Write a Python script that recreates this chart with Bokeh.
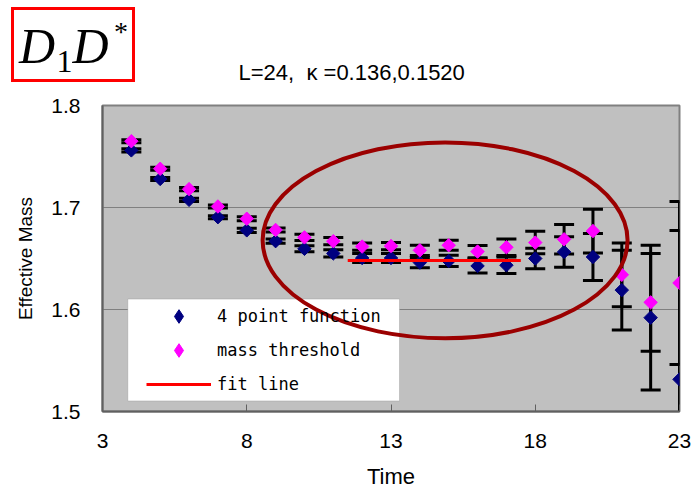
import numpy as np
from bokeh.plotting import figure
from bokeh.layouts import column
from bokeh.models import (Range1d, FixedTicker, Whisker, TeeHead, ColumnDataSource,
                          Legend, LegendItem, BoxAnnotation, Div)
from bokeh.embed import file_html
from bokeh.resources import INLINE

# ---------------- data ----------------
time = [4, 5, 6, 7, 8, 9, 10, 11, 12, 13, 14, 15, 16, 17, 18, 19, 20, 21, 22, 23]
four_point = [1.756, 1.728, 1.7075, 1.6905, 1.6776, 1.667, 1.6595, 1.655, 1.6505, 1.6505,
              1.646, 1.6476, 1.6427, 1.6434, 1.650, 1.6564, 1.6515, 1.619, 1.592, 1.5315]
four_point_err = [0.0015, 0.0015, 0.0015, 0.0015, 0.002, 0.002, 0.003, 0.0035, 0.0045, 0.0045,
                  0.005, 0.0055, 0.007, 0.008, 0.010, 0.015, 0.023, 0.039, 0.071, 0.146]
threshold = [1.765, 1.738, 1.718, 1.701, 1.689, 1.678, 1.6707, 1.667, 1.6617, 1.6622,
             1.658, 1.663, 1.6568, 1.661, 1.6656, 1.6688, 1.6769, 1.634, 1.607, 1.626]
threshold_err = [0.0015, 0.0015, 0.0015, 0.0015, 0.002, 0.002, 0.003, 0.0035, 0.0035, 0.0035,
                 0.005, 0.005, 0.006, 0.008, 0.011, 0.0145, 0.0214, 0.0313, 0.048, 0.080]
fit_time = [11.5, 17.5]
fit_mass = [1.648, 1.648]

x_ticks = [3, 8, 13, 18, 23]
y_ticks = [1.5, 1.6, 1.7, 1.8]

subtitle = "L=24,&nbsp; κ =0.136,0.1520"

# highlight ellipse (centre / size in axis units)
ell_x, ell_y, ell_w, ell_h = 14.875, 1.6678, 12.65, 0.192

src = ColumnDataSource(dict(
    t=time,
    fp=four_point, fp_lo=[v - e for v, e in zip(four_point, four_point_err)],
    fp_hi=[v + e for v, e in zip(four_point, four_point_err)],
    th=threshold, th_lo=[v - e for v, e in zip(threshold, threshold_err)],
    th_hi=[v + e for v, e in zip(threshold, threshold_err)],
))

W, TOP_H = 696, 89

# ---------------- header strip (boxed title + subtitle) ----------------
SERIF = "'Liberation Serif', 'Times New Roman', serif"
SANS = "'Liberation Sans', Arial, sans-serif"
TXT = "position:absolute;line-height:1;color:black;white-space:nowrap;"
header_html = f"""
<div style="position:relative;width:{W}px;height:{TOP_H}px;background:white;overflow:hidden;">
  <div style="position:absolute;left:11px;top:7px;width:124px;height:75px;box-sizing:border-box;border:3px solid #ff0000;"></div>
  <span style="{TXT}left:19px;top:21.4px;font-family:{SERIF};font-style:italic;font-size:50px;">D</span>
  <span style="{TXT}left:56.5px;top:44.9px;font-family:{SERIF};font-size:32px;">1</span>
  <span style="{TXT}left:72.5px;top:21.4px;font-family:{SERIF};font-style:italic;font-size:50px;">D</span>
  <span style="{TXT}left:114px;top:18.3px;font-family:{SERIF};font-size:28px;">*</span>
  <span style="{TXT}left:351.7px;top:62px;transform:translateX(-50%);font-family:{SANS};font-size:22px;">{subtitle}</span>
</div>
"""
header = Div(text=header_html, width=W, height=TOP_H, margin=0)

# ---------------- main chart ----------------
p = figure(width=W, height=491 - TOP_H, output_backend="svg", toolbar_location=None,
           x_range=Range1d(3, 23), y_range=Range1d(1.5, 1.8),
           min_border_left=102, min_border_right=17, min_border_top=16, min_border_bottom=78)
p.background_fill_color = "#c0c0c0"
p.border_fill_color = "white"
p.outline_line_color = "#808080"
p.outline_line_width = 2

p.xgrid.grid_line_color = None
p.ygrid.grid_line_color = "#808080"
p.ygrid.grid_line_width = 1
p.ygrid.ticker = FixedTicker(ticks=y_ticks)

TICK_FONT = "Liberation Sans"
p.xaxis.ticker = FixedTicker(ticks=x_ticks)
p.xaxis.major_label_text_font = TICK_FONT
p.xaxis.major_label_text_font_size = "21px"
p.xaxis.major_label_text_color = "black"
p.xaxis.major_tick_in = 7
p.xaxis.major_tick_out = 0
p.xaxis.major_tick_line_color = "#606060"
p.xaxis.minor_tick_line_color = None
p.xaxis.axis_line_color = "#606060"
p.xaxis.axis_line_width = 2
p.xaxis.major_label_standoff = 22
p.xaxis.axis_label = "Time"
p.xaxis.axis_label_text_font = TICK_FONT
p.xaxis.axis_label_text_font_style = "normal"
p.xaxis.axis_label_text_font_size = "22px"
p.xaxis.axis_label_text_color = "black"
p.xaxis.axis_label_standoff = 13

p.yaxis.ticker = FixedTicker(ticks=y_ticks)
p.yaxis.major_label_text_font = TICK_FONT
p.yaxis.major_label_text_font_size = "21px"
p.yaxis.major_label_text_color = "black"
p.yaxis.major_tick_in = 0
p.yaxis.major_tick_out = 0
p.yaxis.major_tick_line_color = None
p.yaxis.minor_tick_line_color = None
p.yaxis.axis_line_color = "#606060"
p.yaxis.axis_line_width = 2
p.yaxis.major_label_standoff = 22
p.yaxis.axis_label = "Effective Mass"
p.yaxis.axis_label_text_font = TICK_FONT
p.yaxis.axis_label_text_font_style = "normal"
p.yaxis.axis_label_text_font_size = "19px"
p.yaxis.axis_label_text_color = "black"
p.yaxis.axis_label_standoff = 12

# error bars
for lo, hi in (("fp_lo", "fp_hi"), ("th_lo", "th_hi")):
    w = Whisker(source=src, base="t", lower=lo, upper=hi, line_color="black", line_width=3,
                upper_head=TeeHead(size=20, line_width=3, line_color="black"),
                lower_head=TeeHead(size=20, line_width=3, line_color="black"))
    p.add_layout(w)

NAVY, MAGENTA = "#000080", "#ff00ff"
p.scatter("t", "fp", source=src, marker="square", angle=np.pi / 4, size=9.5,
          fill_color=NAVY, line_color=NAVY)
p.scatter("t", "th", source=src, marker="square", angle=np.pi / 4, size=9.5,
          fill_color=MAGENTA, line_color=MAGENTA)
r_fit = p.line(fit_time, fit_mass, line_color="#ff0000", line_width=3)

# legend swatches (diamond markers; a single NaN point so nothing is drawn in the plot)
nan = float("nan")
leg_fp = p.scatter(x=[nan], y=[nan], marker="diamond", fill_color=NAVY, line_color=NAVY)
leg_th = p.scatter(x=[nan], y=[nan], marker="diamond", fill_color=MAGENTA, line_color=MAGENTA)

# legend box
p.add_layout(BoxAnnotation(left=3.877, right=13.295, top=1.6102, bottom=1.5104,
                           fill_color="white", fill_alpha=1.0,
                           line_color="#808080", line_width=1))
LEG_FONT = "DejaVu Sans Mono"
legend = Legend(items=[LegendItem(label="4 point function", renderers=[leg_fp]),
                       LegendItem(label="mass threshold", renderers=[leg_th]),
                       LegendItem(label="fit line", renderers=[r_fit])],
                location=(44, 10), padding=0, spacing=0, margin=0,
                glyph_width=65, glyph_height=34, label_height=34, label_standoff=6,
                label_text_font=LEG_FONT, label_text_font_size="17px",
                label_text_color="black",
                background_fill_alpha=0, border_line_color=None)
p.add_layout(legend, "center")

# highlight ellipse
p.ellipse(x=[ell_x], y=[ell_y], width=[ell_w], height=[ell_h], fill_alpha=0,
          line_color="#9b0000", line_width=4, level="overlay")

layout = column(header, p, spacing=0)
open("out.html", "w").write(file_html(layout, INLINE))
